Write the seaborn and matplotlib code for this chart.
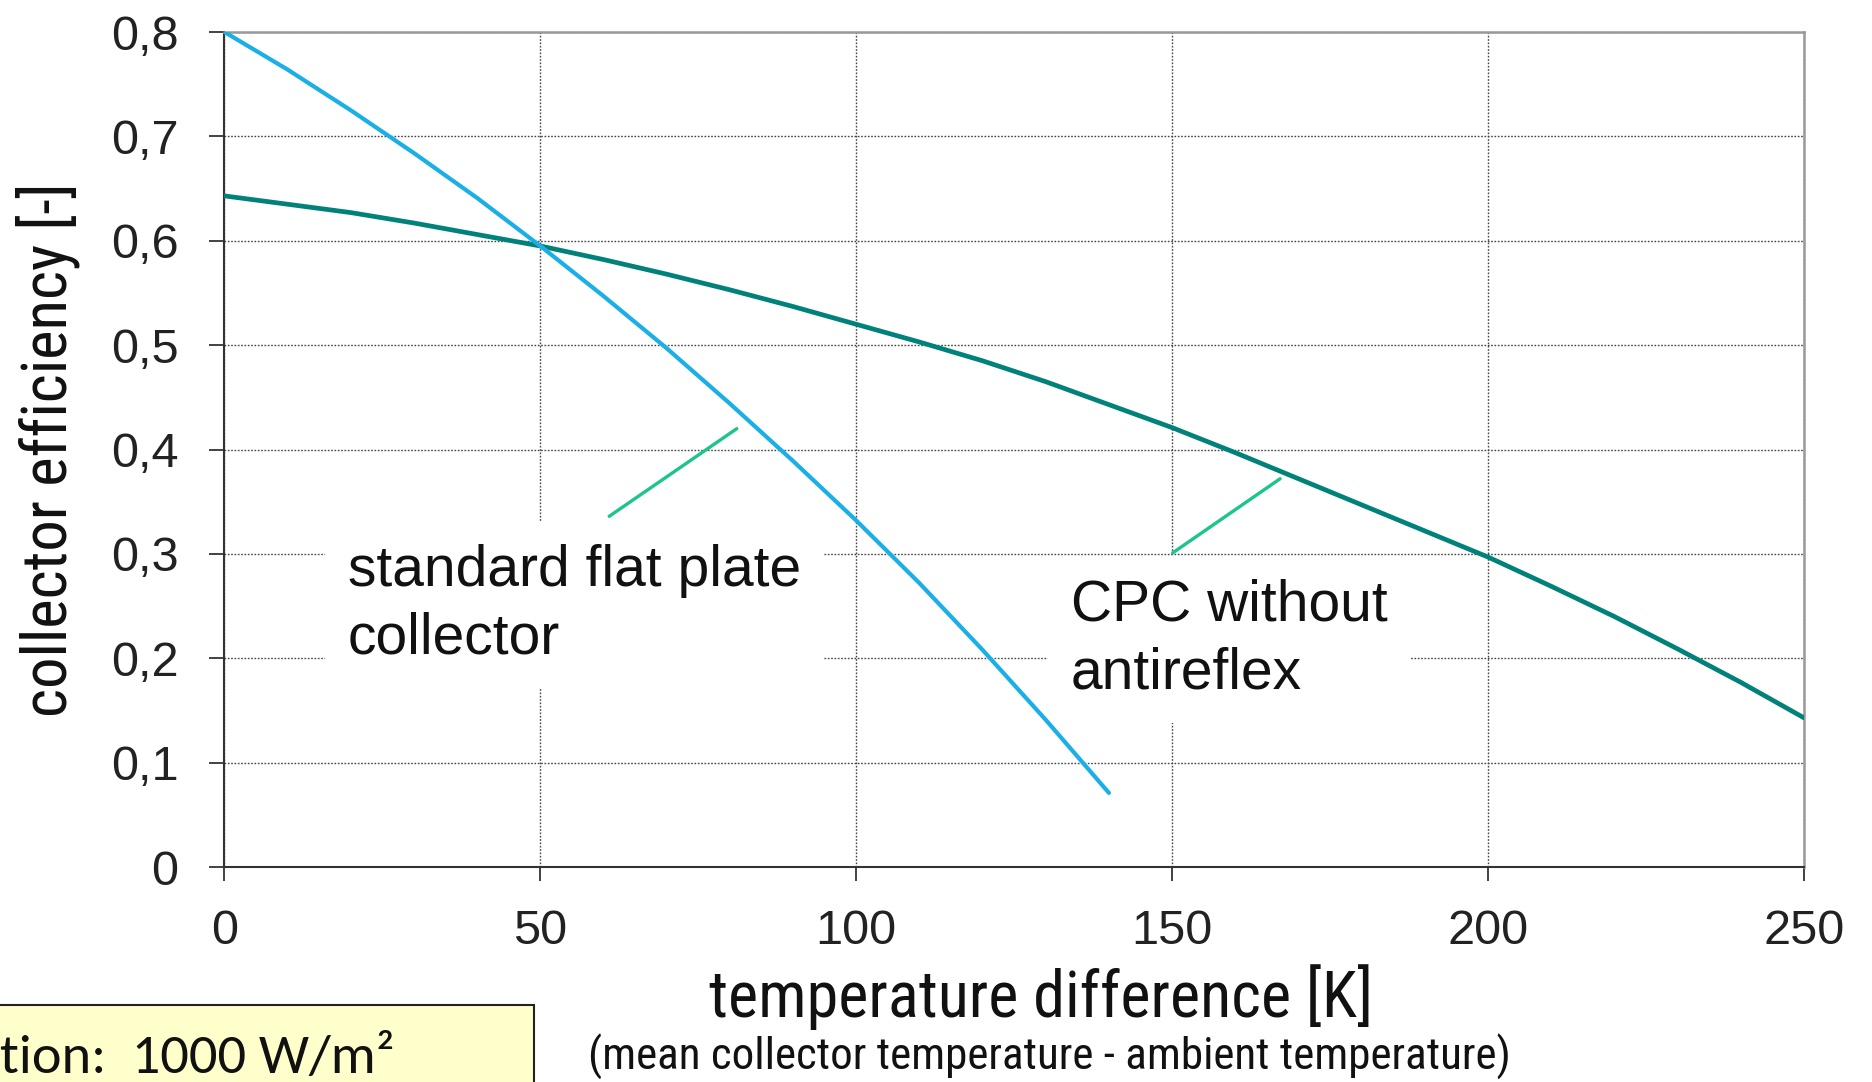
import matplotlib
matplotlib.use("Agg")
import matplotlib.pyplot as plt
from matplotlib.patches import Rectangle
from matplotlib import font_manager as fm
import seaborn as sns
import pandas as pd

# ---- data ----
flat_dt = [0, 10, 20, 30, 40, 50, 60, 70, 80, 90, 100, 110, 120, 130, 140]
flat_eta = [0.800, 0.764, 0.725, 0.684, 0.641, 0.595, 0.547, 0.497, 0.444,
            0.389, 0.332, 0.272, 0.208, 0.141, 0.071]
cpc_dt = [0, 10, 20, 30, 40, 50, 60, 70, 80, 90, 100, 110, 120, 130, 140,
          150, 160, 170, 180, 190, 200, 210, 220, 230, 240, 250]
cpc_eta = [0.643, 0.635, 0.627, 0.617, 0.606, 0.595, 0.582, 0.568, 0.553,
           0.537, 0.520, 0.503, 0.485, 0.465, 0.443, 0.421, 0.397, 0.372,
           0.347, 0.322, 0.297, 0.269, 0.240, 0.209, 0.177, 0.143]
x_ticks = [0, 50, 100, 150, 200, 250]
y_ticks = [0, 0.1, 0.2, 0.3, 0.4, 0.5, 0.6, 0.7, 0.8]
y_ticklabels = ["0", "0,1", "0,2", "0,3", "0,4", "0,5", "0,6", "0,7", "0,8"]
label_flat = "standard flat plate\ncollector"
label_cpc = "CPC without\nantireflex"
x_title = "temperature difference [K]"
x_subtitle = "(mean collector temperature - ambient temperature)"
y_title = "collector efficiency [-]"
info_text = "tion:  1000 W/m²"
leader_flat = [(60.9, 0.336), (81.1, 0.420)]
leader_cpc = [(150.1, 0.301), (167.1, 0.372)]

BLUE = "#1AAFE6"
TEAL = "#00827B"
GREEN = "#1CC48E"

sns.set_theme(style="white")
plt.rcParams["font.family"] = ["Liberation Sans", "DejaVu Sans"]

available = {f.name for f in fm.fontManager.ttflist}
narrow_font = next((f for f in ["Liberation Sans Narrow", "Arial Narrow", "Roboto Condensed",
                                "Archivo Narrow", "Liberation Sans"] if f in available),
                   "DejaVu Sans")
calibri_font = next((f for f in ["Carlito", "Lato", "Open Sans"] if f in available), "DejaVu Sans")
narrow = [narrow_font, "DejaVu Sans"]

fig = plt.figure(figsize=(18.72, 10.82), dpi=100)
ax = fig.add_axes([0.1199, 0.1987, 0.8437, 0.7717])

df_flat = pd.DataFrame({"dt": flat_dt, "eta": flat_eta})
df_cpc = pd.DataFrame({"dt": cpc_dt, "eta": cpc_eta})
sns.lineplot(data=df_cpc, x="dt", y="eta", ax=ax, color=TEAL, lw=3.4, zorder=3)
sns.lineplot(data=df_flat, x="dt", y="eta", ax=ax, color=BLUE, lw=3.0, zorder=3)

ax.set_xlim(0, 250)
ax.set_ylim(0, 0.8)
ax.set_xticks(x_ticks)
ax.set_yticks(y_ticks)
ax.set_yticklabels(y_ticklabels)
ax.tick_params(axis="both", labelsize=35, colors="#222222")
ax.tick_params(axis="y", direction="out", length=11, width=1.2, pad=22, left=True)
ax.tick_params(axis="x", direction="out", length=10, width=1.2, pad=20, bottom=True)

ax.grid(True, which="major", color="#444444", linestyle=(0, (1.2, 1.2)), lw=1.0)
ax.set_axisbelow(True)
for s in ["left", "bottom"]:
    ax.spines[s].set_color("#333333")
    ax.spines[s].set_linewidth(1.5)
for s in ["right", "top"]:
    ax.spines[s].set_color("#999999")
    ax.spines[s].set_linewidth(1.8)

ax.set_xlabel(x_title, fontsize=50, family=narrow, color="#111111")
ax.set_ylabel(y_title, fontsize=50, family=narrow, color="#111111")
ax.xaxis.set_label_coords(0.517, -0.156)
ax.xaxis.label.set_va("center")
ax.yaxis.set_label_coords(-0.1117, 0.5)
ax.yaxis.label.set_va("center")

sub = fig.text(0.5606, 0.0231, x_subtitle, fontsize=36, family=narrow,
               ha="center", va="center", color="#111111")

# curve labels with white boxes hiding the grid (below the curves)
ax.text(55.4, 0.251, label_flat, fontsize=41, ha="center", va="center",
        multialignment="left", color="#111111", zorder=2, linespacing=1.33,
        bbox=dict(boxstyle="square,pad=0.4", facecolor="white", edgecolor="none"))
ax.text(159.0, 0.218, label_cpc, fontsize=41, ha="center", va="center",
        multialignment="left", color="#111111", zorder=2, linespacing=1.33,
        bbox=dict(boxstyle="square,pad=0.4", facecolor="white", edgecolor="none"))

for pts in (leader_flat, leader_cpc):
    ax.annotate("", xy=pts[1], xytext=pts[0],
                arrowprops=dict(arrowstyle="-", color=GREEN, lw=2.4,
                                shrinkA=0, shrinkB=0), zorder=5)

# yellow info box at the bottom-left (partly outside the figure)
fig.add_artist(Rectangle((-0.01, -0.05), 534 / 1872 + 0.01, 0.05 + (1 - 1005 / 1082),
                         transform=fig.transFigure, facecolor="#FFFFCC",
                         edgecolor="#222222", lw=1.5, zorder=1))
info = fig.text(0.0, 0.022, info_text, fontsize=36, family=[calibri_font, "DejaVu Sans"],
                ha="left", va="center", color="#111111", zorder=2)

# fit the widths of some texts to those measured on the reference (pixels)
renderer = fig.canvas.get_renderer()
for t, target in [(ax.xaxis.label, 664), (sub, 925), (info, 394)]:
    w = t.get_window_extent(renderer).width
    t.set_fontsize(t.get_fontsize() * target / w)
h = ax.yaxis.label.get_window_extent(renderer).height
ax.yaxis.label.set_fontsize(ax.yaxis.label.get_fontsize() * 535 / h)

fig.savefig("out.png", dpi=100)
